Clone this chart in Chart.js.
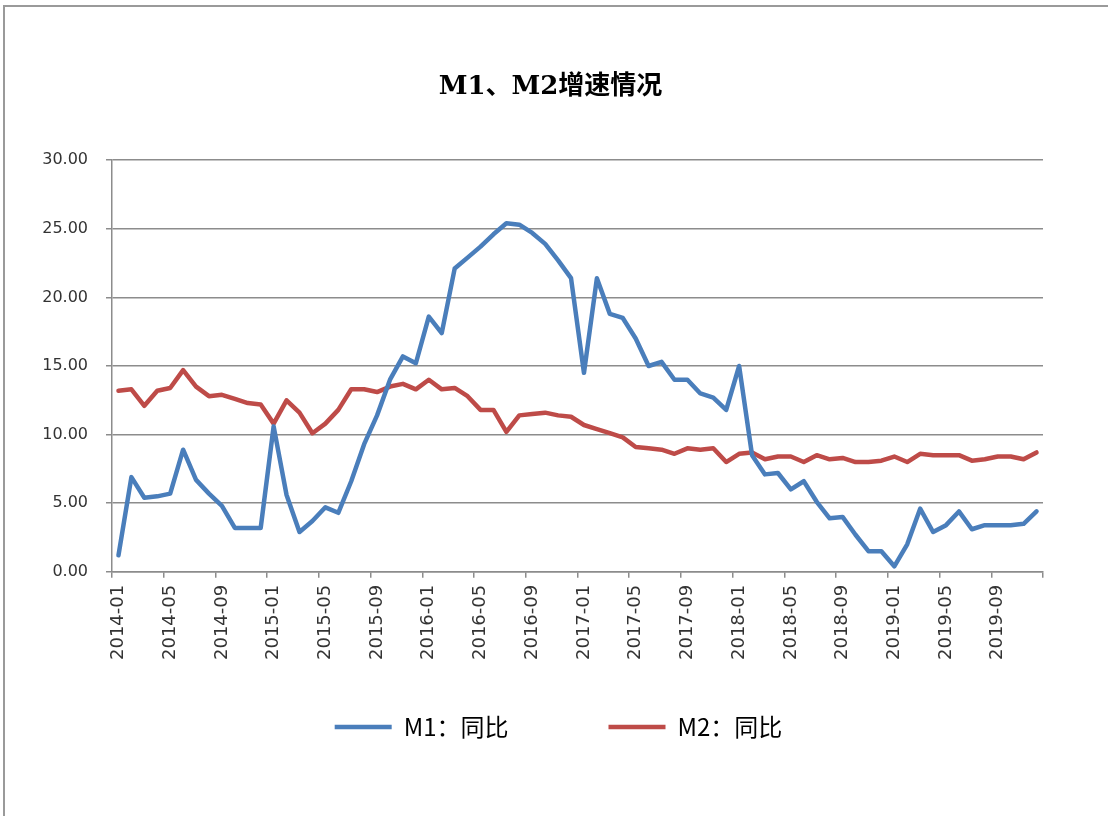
<!DOCTYPE html>
<html lang="zh-CN">
<head>
<meta charset="utf-8">
<title>M1、M2增速情况</title>
<script src="https://cdn.jsdelivr.net/npm/chart.js@4.4.1/dist/chart.umd.min.js"></script>
<style>
    html, body { margin: 0; padding: 0; background: #fff; overflow: hidden; }
    #frame {
        position: absolute; left: 3px; top: 5px; width: 1200px; height: 900px;
        border-left: 2px solid #9a9a9a; border-top: 2px solid #9a9a9a;
    }
    #wrap { position: absolute; left: 0; top: 0; width: 1108px; height: 816px; }
</style>
</head>
<body>
<div id="frame"></div>
<div id="wrap"><canvas id="moneyChart"></canvas></div>
<script>
// Data (monthly, 2014-01 .. 2019-12)
const years = ['2014', '2015', '2016', '2017', '2018', '2019'];
const months = ['01', '02', '03', '04', '05', '06', '07', '08', '09', '10', '11', '12'];

const m1Values = [
    1.2, 6.9, 5.4, 5.5, 5.7, 8.9, 6.7, 5.7, 4.8, 3.2, 3.2, 3.2,
    10.6, 5.6, 2.9, 3.7, 4.7, 4.3, 6.6, 9.3, 11.4, 14.0, 15.7, 15.2,
    18.6, 17.4, 22.1, 22.9, 23.7, 24.6, 25.4, 25.3, 24.7, 23.9, 22.7, 21.4,
    14.5, 21.4, 18.8, 18.5, 17.0, 15.0, 15.3, 14.0, 14.0, 13.0, 12.7, 11.8,
    15.0, 8.5, 7.1, 7.2, 6.0, 6.6, 5.1, 3.9, 4.0, 2.7, 1.5, 1.5,
    0.4, 2.0, 4.6, 2.9, 3.4, 4.4, 3.1, 3.4, 3.4, 3.4, 3.5, 4.4
];

const m2Values = [
    13.2, 13.3, 12.1, 13.2, 13.4, 14.7, 13.5, 12.8, 12.9, 12.6, 12.3, 12.2,
    10.8, 12.5, 11.6, 10.1, 10.8, 11.8, 13.3, 13.3, 13.1, 13.5, 13.7, 13.3,
    14.0, 13.3, 13.4, 12.8, 11.8, 11.8, 10.2, 11.4, 11.5, 11.6, 11.4, 11.3,
    10.7, 10.4, 10.1, 9.8, 9.1, 9.0, 8.9, 8.6, 9.0, 8.9, 9.0, 8.0,
    8.6, 8.7, 8.2, 8.4, 8.4, 8.0, 8.5, 8.2, 8.3, 8.0, 8.0, 8.1,
    8.4, 8.0, 8.6, 8.5, 8.5, 8.5, 8.1, 8.2, 8.4, 8.4, 8.2, 8.7
];

const seriesNames = ['M1：同比', 'M2：同比'];
const yTicks = [0, 5, 10, 15, 20, 25, 30];

const categories = [];
years.forEach(y => months.forEach(m => categories.push(y + '-' + m)));

const gridColor = '#8c8c8c';

// nudge title / legend blocks after layout (legend padding is large for the item gap)
const shiftBoxes = {
    id: 'shiftBoxes',
    afterLayout(chart) {
        const t = chart.titleBlock;
        t.left += 10; t.right += 10;
        const lg = chart.legend;
        lg.left += 18; lg.right += 18;
        lg.top -= 52; lg.bottom -= 52;
    }
};

document.addEventListener('DOMContentLoaded', function() {
    const ctx = document.getElementById('moneyChart');

    new Chart(ctx, {
        type: 'line',
        data: {
            labels: categories,
            datasets: [{
                label: seriesNames[0],
                data: m1Values,
                borderColor: '#4a7ebb',
                backgroundColor: '#4a7ebb',
                borderWidth: 4.5,
                borderJoinStyle: 'round',
                borderCapStyle: 'round',
                pointRadius: 0,
                tension: 0
            }, {
                label: seriesNames[1],
                data: m2Values,
                borderColor: '#be4b48',
                backgroundColor: '#be4b48',
                borderWidth: 4.5,
                borderJoinStyle: 'round',
                borderCapStyle: 'round',
                pointRadius: 0,
                tension: 0
            }]
        },
        plugins: [shiftBoxes],
        options: {
            responsive: true,
            maintainAspectRatio: false,
            animation: false,
            layout: {
                padding: { top: 72, left: 38, right: 65, bottom: 15 }
            },
            scales: {
                x: {
                    offset: true,
                    border: { color: gridColor, width: 1.5 },
                    grid: {
                        offset: true,
                        drawOnChartArea: false,
                        drawTicks: true,
                        tickLength: 6,
                        lineWidth: 1.5,
                        color: c => (c.index === undefined || c.index % 4 === 0) ? gridColor : 'rgba(0,0,0,0)'
                    },
                    ticks: {
                        autoSkip: false,
                        minRotation: 90,
                        maxRotation: 90,
                        padding: 7,
                        color: '#333',
                        font: { family: 'DejaVu Sans', size: 18 },
                        callback: function(value, index) {
                            return index % 4 === 0 ? this.getLabelForValue(value) : '';
                        }
                    }
                },
                y: {
                    min: 0,
                    max: 30,
                    afterFit: scale => { scale.width = 74; },
                    afterBuildTicks: scale => {
                        scale.ticks = yTicks.map(v => ({ value: v }));
                    },
                    border: { color: gridColor, width: 1.5 },
                    grid: {
                        color: gridColor,
                        lineWidth: 1.5,
                        drawTicks: true,
                        tickLength: 6
                    },
                    ticks: {
                        padding: 18,
                        color: '#333',
                        font: { family: 'DejaVu Sans', size: 16 },
                        callback: value => Number(value).toFixed(2)
                    }
                }
            },
            plugins: {
                title: {
                    display: true,
                    text: 'M1、M2增速情况',
                    color: '#000',
                    font: { family: "'DejaVu Serif', 'Noto Sans CJK SC'", size: 26, weight: 'bold' },
                    padding: { top: 0, bottom: 57 }
                },
                legend: {
                    position: 'bottom',
                    labels: {
                        usePointStyle: true,
                        pointStyle: 'line',
                        pointStyleWidth: 57,
                        padding: 100,
                        color: '#000',
                        font: { family: "'Noto Sans CJK SC'", size: 24 }
                    }
                },
                tooltip: { enabled: false }
            }
        }
    });
});
</script>
</body>
</html>
